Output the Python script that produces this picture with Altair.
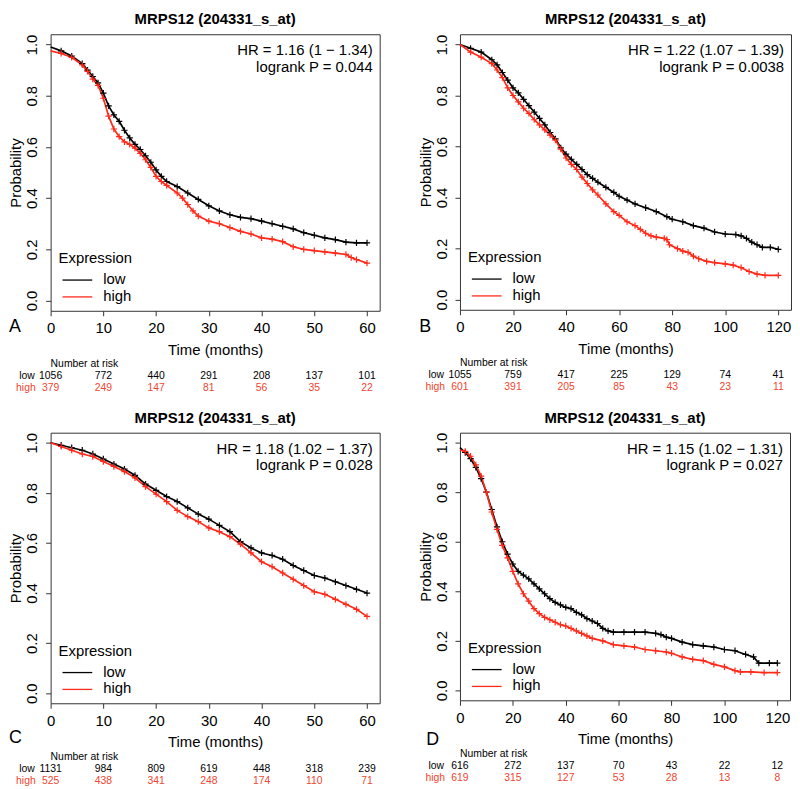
import altair as alt
import pandas as pd

FONT = "Liberation Sans"
RED = "#ff2a1a"
RED_TXT = "#f2452f"
BLACK = "#000000"
TITLE = "MRPS12 (204331_s_at)"
GROUPS = ["low", "high"]

# ---------------- Panel A ----------------
A_low_t = [0, 2, 4, 6, 7, 8, 9, 10, 11, 12, 13, 14, 15, 16, 17, 18, 19, 20, 21, 22, 24, 26, 28, 30, 32, 34, 36, 38, 40, 42, 44, 46, 48, 50, 52, 54, 56, 58, 60]
A_low_p = [0.99, 0.975, 0.955, 0.925, 0.90, 0.875, 0.85, 0.81, 0.76, 0.725, 0.70, 0.665, 0.635, 0.61, 0.59, 0.565, 0.54, 0.51, 0.485, 0.465, 0.445, 0.42, 0.395, 0.37, 0.35, 0.335, 0.325, 0.32, 0.31, 0.30, 0.29, 0.28, 0.265, 0.255, 0.245, 0.238, 0.228, 0.225, 0.225]
A_high_t = [0, 2, 4, 6, 7, 8, 9, 10, 11, 12, 13, 14, 15, 16, 17, 18, 19, 20, 21, 22, 24, 25, 26, 27, 28, 30, 32, 34, 36, 38, 40, 42, 44, 46, 48, 50, 52, 54, 56, 57, 58, 60]
A_high_p = [0.975, 0.965, 0.95, 0.92, 0.895, 0.865, 0.84, 0.79, 0.72, 0.67, 0.64, 0.62, 0.61, 0.595, 0.575, 0.55, 0.52, 0.485, 0.465, 0.45, 0.42, 0.40, 0.375, 0.35, 0.33, 0.31, 0.30, 0.285, 0.27, 0.26, 0.245, 0.24, 0.23, 0.21, 0.20, 0.195, 0.19, 0.185, 0.18, 0.168, 0.16, 0.146]
A_risk_t = [0, 10, 20, 30, 40, 50, 60]
A_risk_low = [1056, 772, 440, 291, 208, 137, 101]
A_risk_high = [379, 249, 147, 81, 56, 35, 22]
A_hr = "HR = 1.16 (1 \u2212 1.34)"
A_pv = "logrank P = 0.044"

# ---------------- Panel B ----------------
B_low_t = [0, 4, 8, 12, 14, 16, 18, 20, 22, 24, 26, 28, 30, 32, 34, 36, 38, 40, 42, 44, 46, 48, 50, 52, 55, 58, 60, 63, 66, 70, 74, 78, 80, 84, 88, 92, 96, 100, 104, 106, 108, 110, 112, 114, 117, 120]
B_low_p = [1.0, 0.985, 0.97, 0.94, 0.92, 0.89, 0.86, 0.83, 0.81, 0.785, 0.76, 0.735, 0.71, 0.685, 0.655, 0.63, 0.595, 0.57, 0.55, 0.53, 0.51, 0.49, 0.475, 0.46, 0.44, 0.42, 0.405, 0.39, 0.375, 0.36, 0.345, 0.325, 0.315, 0.305, 0.29, 0.28, 0.265, 0.257, 0.255, 0.25, 0.24, 0.225, 0.215, 0.205, 0.205, 0.197]
B_high_t = [0, 4, 8, 12, 14, 16, 18, 20, 22, 24, 26, 28, 30, 32, 34, 36, 38, 40, 42, 44, 46, 48, 50, 52, 55, 58, 60, 63, 66, 68, 70, 72, 74, 77, 78, 79, 82, 84, 86, 88, 90, 93, 96, 100, 103, 106, 109, 112, 115, 120]
B_high_p = [1.0, 0.97, 0.95, 0.925, 0.90, 0.87, 0.83, 0.80, 0.775, 0.75, 0.73, 0.705, 0.685, 0.665, 0.645, 0.625, 0.59, 0.555, 0.53, 0.51, 0.48, 0.455, 0.43, 0.41, 0.375, 0.345, 0.33, 0.305, 0.29, 0.275, 0.26, 0.25, 0.245, 0.24, 0.235, 0.215, 0.20, 0.19, 0.185, 0.17, 0.16, 0.15, 0.145, 0.14, 0.135, 0.125, 0.11, 0.10, 0.095, 0.095]
B_risk_t = [0, 20, 40, 60, 80, 100, 120]
B_risk_low = [1055, 759, 417, 225, 129, 74, 41]
B_risk_high = [601, 391, 205, 85, 43, 23, 11]
B_hr = "HR = 1.22 (1.07 \u2212 1.39)"
B_pv = "logrank P = 0.0038"

# ---------------- Panel C ----------------
C_low_t = [0, 2, 4, 6, 8, 10, 12, 14, 16, 18, 20, 22, 24, 26, 28, 30, 32, 34, 36, 38, 40, 42, 44, 46, 48, 50, 52, 54, 56, 58, 60]
C_low_p = [1.0, 0.99, 0.98, 0.97, 0.955, 0.935, 0.915, 0.895, 0.87, 0.835, 0.81, 0.785, 0.765, 0.74, 0.715, 0.695, 0.67, 0.645, 0.605, 0.58, 0.56, 0.55, 0.535, 0.51, 0.49, 0.47, 0.46, 0.445, 0.43, 0.415, 0.40]
C_high_t = [0, 2, 4, 6, 8, 10, 12, 14, 16, 18, 20, 22, 24, 26, 28, 30, 32, 34, 36, 38, 40, 42, 44, 46, 48, 50, 52, 54, 56, 58, 60]
C_high_p = [1.0, 0.985, 0.97, 0.955, 0.945, 0.925, 0.905, 0.885, 0.86, 0.825, 0.795, 0.765, 0.73, 0.705, 0.685, 0.66, 0.645, 0.625, 0.595, 0.56, 0.525, 0.505, 0.48, 0.455, 0.43, 0.405, 0.395, 0.375, 0.355, 0.335, 0.307]
C_risk_t = [0, 10, 20, 30, 40, 50, 60]
C_risk_low = [1131, 984, 809, 619, 448, 318, 239]
C_risk_high = [525, 438, 341, 248, 174, 110, 71]
C_hr = "HR = 1.18 (1.02 \u2212 1.37)"
C_pv = "logrank P = 0.028"

# ---------------- Panel D ----------------
D_low_t = [0, 2, 4, 6, 8, 10, 12, 14, 16, 18, 20, 22, 24, 26, 28, 30, 32, 34, 36, 38, 40, 42, 44, 46, 48, 50, 52, 54, 56, 58, 62, 66, 70, 74, 76, 78, 80, 84, 88, 92, 96, 100, 104, 108, 111, 113, 117, 120]
D_low_p = [0.98, 0.96, 0.935, 0.90, 0.855, 0.80, 0.73, 0.66, 0.60, 0.55, 0.51, 0.48, 0.465, 0.45, 0.43, 0.41, 0.39, 0.37, 0.355, 0.345, 0.335, 0.33, 0.315, 0.305, 0.29, 0.28, 0.27, 0.25, 0.24, 0.235, 0.235, 0.235, 0.235, 0.23, 0.225, 0.215, 0.21, 0.195, 0.185, 0.18, 0.175, 0.165, 0.16, 0.145, 0.135, 0.11, 0.11, 0.11]
D_high_t = [0, 2, 4, 6, 8, 10, 12, 14, 16, 18, 20, 22, 24, 26, 28, 30, 32, 34, 36, 38, 40, 42, 44, 46, 48, 50, 54, 58, 62, 66, 70, 74, 78, 80, 84, 88, 92, 96, 100, 104, 106, 110, 115, 120]
D_high_p = [0.97, 0.965, 0.945, 0.91, 0.865, 0.80, 0.72, 0.65, 0.585, 0.535, 0.48, 0.43, 0.39, 0.36, 0.33, 0.31, 0.295, 0.285, 0.275, 0.265, 0.26, 0.25, 0.24, 0.23, 0.22, 0.21, 0.20, 0.185, 0.18, 0.175, 0.165, 0.16, 0.155, 0.15, 0.135, 0.125, 0.12, 0.105, 0.095, 0.08, 0.075, 0.075, 0.072, 0.072]
D_risk_t = [0, 20, 40, 60, 80, 100, 120]
D_risk_low = [616, 272, 137, 70, 43, 22, 12]
D_risk_high = [619, 315, 127, 53, 28, 13, 8]
D_hr = "HR = 1.15 (1.02 \u2212 1.31)"
D_pv = "logrank P = 0.027"

Y_TICKS = [0, 0.2, 0.4, 0.6, 0.8, 1.0]
PLUS = "M-1,0L1,0M0,-1L0,1"
TABLE_FS = 10.5


def txt(s, **kw):
    return alt.Chart(pd.DataFrame({"s": [s]})).mark_text(**kw).encode(text="s:N")


def panel(letter, lt, lp, ht, hp, rt, rlow, rhigh, hr, pv, xmax, xticks, w, h,
          letter_x, letter_dy):
    curves = pd.DataFrame({
        "time": lt + ht,
        "prob": lp + hp,
        "group": ["low"] * len(lt) + ["high"] * len(ht),
    })
    cens = curves[curves["time"] > 0]
    risk = pd.DataFrame({"time": rt, "low": rlow, "high": rhigh})

    xscale = alt.Scale(domain=[0, xmax * 1.04], nice=False, zero=False)
    yscale = alt.Scale(domain=[-0.04, 1.04], nice=False, zero=False)
    xaxis = alt.Axis(values=xticks, format="d", title="Time (months)", grid=False,
                     domain=False, tickSize=5, tickColor="#333333", labelPadding=5,
                     labelFontSize=15, labelColor=BLACK, titleFontSize=15,
                     titleFontWeight="normal", titleColor=BLACK, titleY=39,
                     titleBaseline="middle", labelFlush=False, labelOverlap=False)
    yaxis = alt.Axis(values=Y_TICKS, format=".1f", title="Probability", grid=False,
                     domain=False, tickSize=5, tickColor="#333333", labelAngle=270,
                     labelAlign="center", labelBaseline="alphabetic", labelPadding=9,
                     labelFontSize=15, labelColor=BLACK, titleFontSize=15,
                     titleFontWeight="normal", titleColor=BLACK, titleAngle=270,
                     titleX=-35, titleBaseline="middle", titleAlign="center",
                     labelFlush=False, labelOverlap=False)
    color = alt.Color("group:N", scale=alt.Scale(domain=GROUPS, range=[BLACK, RED]),
                      legend=None)
    X = alt.X("time:Q", scale=xscale, axis=xaxis)
    Y = alt.Y("prob:Q", scale=yscale, axis=yaxis)

    lines = alt.Chart(curves).mark_line(strokeWidth=1.7).encode(
        x=X, y=Y, color=color, detail="group:N")
    marks = alt.Chart(cens).mark_point(shape=PLUS, filled=False, size=40,
                                        strokeWidth=1.2, opacity=1).encode(
        x=X, y=Y, color=color)

    hr_t = txt(hr, align="right", baseline="middle", fontSize=15, color=BLACK).encode(
        x=alt.value(w - 7), y=alt.value(16))
    pv_t = txt(pv, align="right", baseline="middle", fontSize=15, color=BLACK).encode(
        x=alt.value(w - 7), y=alt.value(33))
    title_t = txt(TITLE, align="center", baseline="middle", fontSize=15,
                  fontWeight="bold", color=BLACK).encode(
        x=alt.value(w / 2), y=alt.value(-15))
    letter_t = txt(letter, align="left", baseline="middle", fontSize=18,
                   color=BLACK).encode(x=alt.value(letter_x), y=alt.value(h + letter_dy))

    leg_title = txt("Expression", align="left", baseline="middle", fontSize=15,
                    color=BLACK).encode(x=alt.value(8), y=alt.value(h - 53))
    leg_low = txt("low", align="left", baseline="middle", fontSize=15,
                  color=BLACK).encode(x=alt.value(53), y=alt.value(h - 32))
    leg_high = txt("high", align="left", baseline="middle", fontSize=15,
                   color=BLACK).encode(x=alt.value(53), y=alt.value(h - 15))
    rule_low = txt("low").mark_rule(strokeWidth=1.3, color=BLACK).encode(
        x=alt.value(12), x2=alt.value(42), y=alt.value(h - 31))
    rule_high = txt("high").mark_rule(strokeWidth=1.3, color=RED).encode(
        x=alt.value(12), x2=alt.value(42), y=alt.value(h - 14))

    nar = txt("Number at risk", align="left", baseline="middle", fontSize=TABLE_FS,
              color=BLACK).encode(x=alt.value(0), y=alt.value(h + 54))
    lab_low = txt("low", align="right", baseline="middle", fontSize=TABLE_FS,
                  color=BLACK).encode(x=alt.value(-16), y=alt.value(h + 66))
    lab_high = txt("high", align="right", baseline="middle", fontSize=TABLE_FS,
                   color=RED_TXT).encode(x=alt.value(-15), y=alt.value(h + 78))
    row_low = alt.Chart(risk).mark_text(align="center", baseline="middle",
                                        fontSize=TABLE_FS, color=BLACK).encode(
        x=X, y=alt.value(h + 66), text="low:Q")
    row_high = alt.Chart(risk).mark_text(align="center", baseline="middle",
                                         fontSize=TABLE_FS, color=RED_TXT).encode(
        x=X, y=alt.value(h + 78), text="high:Q")

    return alt.layer(lines, marks, hr_t, pv_t, title_t, letter_t, leg_title, leg_low,
                     leg_high, rule_low, rule_high, nar, lab_low, lab_high, row_low,
                     row_high).properties(width=w, height=h)


pA = panel("A", A_low_t, A_low_p, A_high_t, A_high_p, A_risk_t, A_risk_low, A_risk_high,
           A_hr, A_pv, 60, [0, 10, 20, 30, 40, 50, 60], 332, 279, -42, 16)
pB = panel("B", B_low_t, B_low_p, B_high_t, B_high_p, B_risk_t, B_risk_low, B_risk_high,
           B_hr, B_pv, 120, [0, 20, 40, 60, 80, 100, 120], 334, 278, -41, 17)
pC = panel("C", C_low_t, C_low_p, C_high_t, C_high_p, C_risk_t, C_risk_low, C_risk_high,
           C_hr, C_pv, 60, [0, 10, 20, 30, 40, 50, 60], 332, 273, -42, 35)
pD = panel("D", D_low_t, D_low_p, D_high_t, D_high_p, D_risk_t, D_risk_low, D_risk_high,
           D_hr, D_pv, 120, [0, 20, 40, 60, 80, 100, 120], 333, 270, -34, 40)

chart = alt.concat(pA, pB, pC, pD, columns=2, spacing={"row": 123, "column": 81},
                   bounds="flush", align="each").properties(padding=0).configure(
    font=FONT).configure_view(stroke="#333333", strokeWidth=1)

chart.save("out.html", embed_options={"renderer": "svg", "actions": False})
